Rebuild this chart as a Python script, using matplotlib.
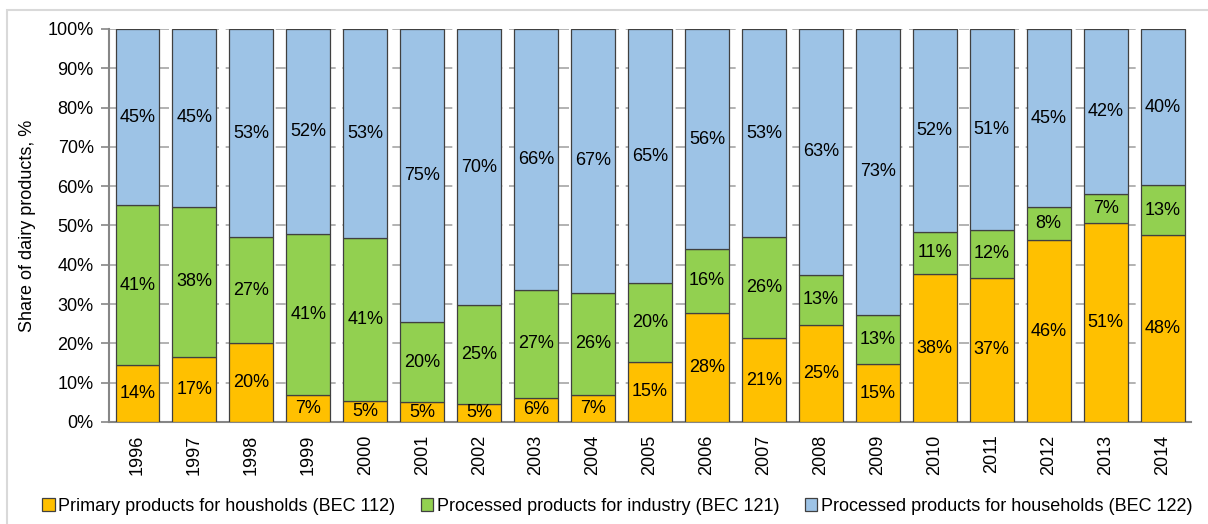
import matplotlib
matplotlib.use("Agg")
import matplotlib.pyplot as plt
from matplotlib.patches import Rectangle
import numpy as np

plt.rcParams['font.family'] = ['Liberation Sans', 'DejaVu Sans']

years = ["1996", "1997", "1998", "1999", "2000", "2001", "2002", "2003", "2004", "2005",
         "2006", "2007", "2008", "2009", "2010", "2011", "2012", "2013", "2014"]

primary_households = [14.4, 16.6, 20.1, 6.8, 5.3, 5.0, 4.7, 6.2, 6.9, 15.3,
                      27.8, 21.3, 24.8, 14.7, 37.6, 36.7, 46.2, 50.6, 47.6]
processed_industry = [40.7, 38.2, 26.9, 41.1, 41.4, 20.4, 25.0, 27.4, 26.0, 20.0,
                      16.2, 25.7, 12.6, 12.6, 10.8, 12.1, 8.4, 7.3, 12.6]
processed_households = [44.9, 45.2, 53.0, 52.1, 53.3, 74.6, 70.3, 66.4, 67.1, 64.7,
                        56.0, 53.0, 62.6, 72.7, 51.6, 51.2, 45.4, 42.1, 39.8]

series_names = ["Primary products for housholds (BEC 112)",
                "Processed products for industry (BEC 121)",
                "Processed products for households (BEC 122)"]
colors = ["#FFC000", "#92D050", "#9DC3E6"]
y_ticks = [0, 10, 20, 30, 40, 50, 60, 70, 80, 90, 100]

FS = 13

fig = plt.figure(figsize=(12.08, 5.24), dpi=100)
ax = fig.add_axes([0.0902, 0.1947, 0.8958, 0.75])

# light frame around the chart area
fig.patches.append(Rectangle((7 / 1208, -0.01), 1.05, (524 - 10) / 524 + 0.01,
                             transform=fig.transFigure, fill=False,
                             edgecolor="#D9D9D9", linewidth=1.5, zorder=0))

x = np.arange(len(years))
bottom = np.zeros(len(years))
for name, vals, col in zip(series_names,
                           [primary_households, processed_industry, processed_households],
                           colors):
    vals = np.array(vals)
    ax.bar(x, vals, bottom=bottom, width=0.77, color=col, edgecolor="#404040",
           linewidth=0.9, label=name, zorder=3)
    for xi, b, v in zip(x, bottom, vals):
        ax.text(xi, b + v / 2, f"{v:.0f}%", ha="center", va="center",
                fontsize=FS, color="black", zorder=4)
    bottom += vals

ax.set_xlim(-0.5, len(years) - 0.5)
ax.set_ylim(0, 100)
ax.set_yticks(y_ticks)
ax.set_yticklabels([f"{t}%" for t in y_ticks], fontsize=FS)
ax.set_xticks(x)
ax.set_xticklabels(years, rotation=90, fontsize=FS)
ax.tick_params(axis="x", length=0, pad=9)
ax.tick_params(axis="y", length=6, width=1.2, color="#868686", pad=5, direction="out")

ax.yaxis.grid(True, color="#A6A6A6", linestyle=(0, (6, 4)), linewidth=1.2, zorder=0)
ax.set_axisbelow(True)
for s in ["top", "right"]:
    ax.spines[s].set_visible(False)
for s in ["left", "bottom"]:
    ax.spines[s].set_color("#868686")
    ax.spines[s].set_linewidth(1.5)

ax.set_ylabel("Share of dairy products, %", fontsize=FS, labelpad=8)

fig.legend(loc="center", bbox_to_anchor=(0.511, 0.034), ncol=3, frameon=False,
           fontsize=FS, handlelength=0.7, handleheight=0.7, handletextpad=0.2,
           columnspacing=1.4, borderaxespad=0)

fig.savefig("out.png", dpi=100)
